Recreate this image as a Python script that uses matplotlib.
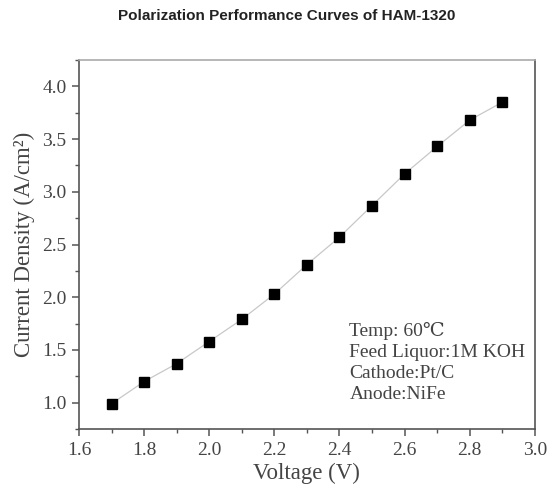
import numpy as np
import matplotlib
matplotlib.use("Agg")
import matplotlib.pyplot as plt
from matplotlib.ticker import MultipleLocator

plt.rcParams['font.family'] = ['Liberation Serif', 'DejaVu Serif']

# data
voltage = [1.7, 1.8, 1.9, 2.0, 2.1, 2.2, 2.3, 2.4, 2.5, 2.6, 2.7, 2.8, 2.9]
current_density = [0.99, 1.20, 1.37, 1.58, 1.79, 2.03, 2.31, 2.57, 2.87, 3.17, 3.43, 3.68, 3.85]
x_ticks = [1.6, 1.8, 2.0, 2.2, 2.4, 2.6, 2.8, 3.0]
y_ticks = [1.0, 1.5, 2.0, 2.5, 3.0, 3.5, 4.0]
info_lines = ["Temp: 60\u2103", "Feed Liquor:1M KOH", "Cathode:Pt/C", "Anode:NiFe"]

txt_col = '#444444'
spine_col = '#555555'

fig = plt.figure(figsize=(5.52, 4.92), dpi=100)
ax = fig.add_axes([0.143, 0.128, 0.826, 0.750])

ax.plot(voltage, current_density, color='#c8c8c8', lw=0.9, zorder=1)
ax.plot(voltage, current_density, ls='none', marker='s', ms=7.2,
        color='black', zorder=2)

ax.set_xlim(1.6, 3.0)
ax.set_ylim(0.75, 4.25)
ax.set_xticks(x_ticks)
ax.set_yticks(y_ticks)
ax.set_xticklabels(['%.1f' % v for v in x_ticks])
ax.set_yticklabels(['%.1f' % v for v in y_ticks])
ax.xaxis.set_minor_locator(MultipleLocator(0.1))
ax.yaxis.set_minor_locator(MultipleLocator(0.25))
ax.tick_params(which='major', direction='out', length=5, width=1.1,
               color=spine_col, labelsize=14, labelcolor=txt_col, pad=4)
ax.tick_params(which='minor', direction='out', length=3, width=1.0,
               color=spine_col)

for s in ax.spines.values():
    s.set_color(spine_col)
    s.set_linewidth(1.2)
ax.spines['top'].set_color('#aaaaaa')

ax.set_xlabel('Voltage (V)', fontsize=16.5, color=txt_col, labelpad=3)
ax.set_ylabel('Current Density (A/cm\u00b2)', fontsize=16.5, color=txt_col,
              labelpad=5)

ax.text(0.593, 0.29, '\n'.join(info_lines), transform=ax.transAxes,
        fontsize=14, color=txt_col, va='top', ha='left', linespacing=1.3)

fig.text(0.52, 0.968, 'Polarization Performance Curves of HAM-1320',
         ha='center', va='center', fontsize=11, fontweight='bold',
         family='Liberation Sans', color='#222222')

fig.savefig('out.png', dpi=100)
